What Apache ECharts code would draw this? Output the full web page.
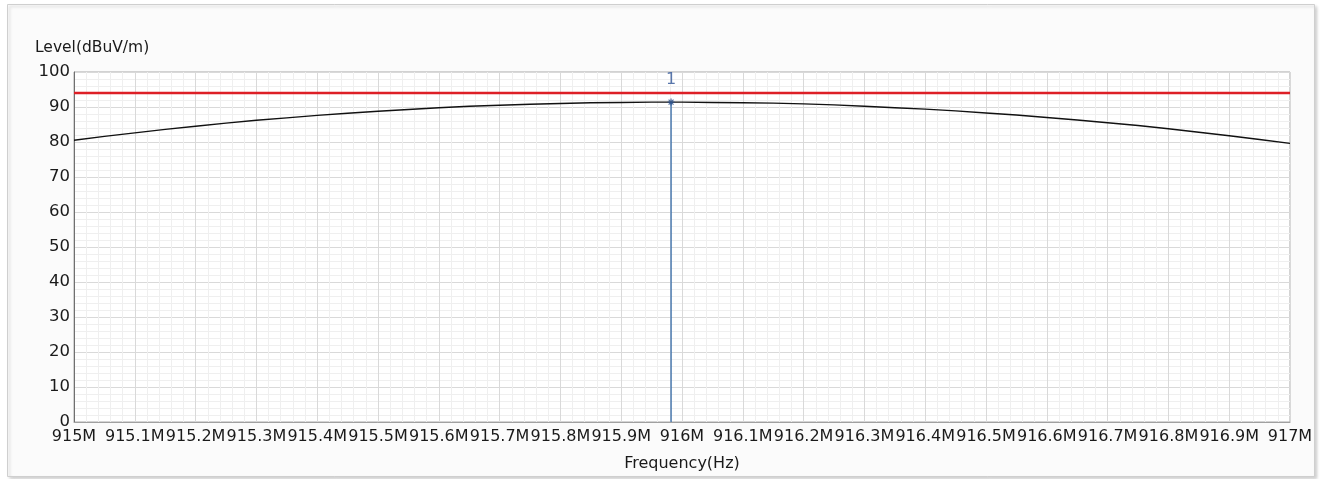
<!DOCTYPE html>
<html>
<head>
<meta charset="utf-8">
<script src="https://cdn.jsdelivr.net/npm/echarts@6/dist/echarts.min.js"></script>
<style>
html,body{margin:0;padding:0;background:#ffffff;}
#chart{width:1324px;height:479px;}
</style>
</head>
<body>
<div id="chart"></div>
<script>
// Frequency (MHz) samples of the measured trace
const freqs = [915.00,915.05,915.10,915.15,915.20,915.25,915.30,915.35,915.40,915.45,
  915.50,915.55,915.60,915.65,915.70,915.75,915.80,915.85,915.90,915.95,
  916.00,916.05,916.10,916.15,916.20,916.25,916.30,916.35,916.40,916.45,
  916.50,916.55,916.60,916.65,916.70,916.75,916.80,916.85,916.90,916.95,917.00];
// Level (dBuV/m) of the measured trace
const levels = [80.5,81.6,82.6,83.6,84.5,85.4,86.2,86.9,87.6,88.2,
  88.8,89.3,89.8,90.2,90.5,90.8,91.0,91.2,91.3,91.4,
  91.4,91.3,91.2,91.1,90.9,90.6,90.2,89.8,89.4,88.9,
  88.3,87.7,87.0,86.3,85.5,84.7,83.8,82.8,81.8,80.7,79.6];
// Limit line
const limitLevel = 94;
const limitFreqs = [915, 917];
// Marker 1
const markerName = '1';
const markerFreq = 915.982;
const markerLevel = 91.4;
// Axes
const xMin = 915, xMax = 917, xStep = 0.1;
const yMin = 0, yMax = 100, yStep = 10;
const yTitle = 'Level(dBuV/m)';
const xTitle = 'Frequency(Hz)';

const traceData = freqs.map((f, i) => [f, levels[i]]);
const limitData = limitFreqs.map(f => [f, limitLevel]);
const markerLine = [[markerFreq, yMin], [markerFreq, markerLevel]];

const FONT = 'DejaVu Sans';
const chart = echarts.init(document.getElementById('chart'), null, {renderer: 'canvas'});
chart.setOption({
  animation: false,
  backgroundColor: '#ffffff',
  graphic: [{
    type: 'rect', z: -10, silent: true,
    shape: {x: 7.5, y: 4.5, width: 1307, height: 472},
    style: {fill: '#fbfbfb', stroke: '#cfcfcf', lineWidth: 1,
      shadowColor: 'rgba(0,0,0,0.18)', shadowBlur: 3, shadowOffsetX: 2, shadowOffsetY: 2}
  }],
  title: {
    text: yTitle, left: 30, top: 35,
    textStyle: {fontFamily: FONT, fontSize: 15.5, fontWeight: 'normal', color: '#1a1a1a'}
  },
  grid: {
    left: 74, right: 34, top: 72, bottom: 57,
    show: true, backgroundColor: '#ffffff', borderColor: '#a8a8a8', borderWidth: 1
  },
  xAxis: {
    type: 'value', min: xMin, max: xMax, interval: xStep,
    name: xTitle, nameLocation: 'middle', nameGap: 34,
    nameTextStyle: {fontFamily: FONT, fontSize: 16, color: '#1a1a1a'},
    axisLine: {show: true, onZero: false, lineStyle: {color: '#a0a0a0', width: 1}},
    axisTick: {show: false},
    minorTick: {show: false, splitNumber: 5},
    axisLabel: {
      fontFamily: FONT, fontSize: 16, color: '#1a1a1a', margin: 7,
      hideOverlap: false, showMinLabel: true, showMaxLabel: true,
      formatter: v => (+v.toFixed(1)) + 'M'
    },
    splitLine: {show: true, lineStyle: {color: '#d9d9d9', width: 1}},
    minorSplitLine: {show: true, lineStyle: {color: '#efefef', width: 1}}
  },
  yAxis: {
    type: 'value', min: yMin, max: yMax, interval: yStep,
    axisLine: {show: true, lineStyle: {color: '#707070', width: 1}},
    axisTick: {show: false},
    minorTick: {show: false, splitNumber: 5},
    axisLabel: {fontFamily: FONT, fontSize: 16.5, color: '#1a1a1a', margin: 4, hideOverlap: false},
    splitLine: {show: true, lineStyle: {color: '#d9d9d9', width: 1}},
    minorSplitLine: {show: true, lineStyle: {color: '#efefef', width: 1}}
  },
  series: [
    {
      type: 'line', data: limitData, symbol: 'none', silent: true,
      lineStyle: {color: '#dd1f26', width: 2.5}, z: 3
    },
    {
      type: 'line', data: traceData, symbol: 'none', silent: true,
      lineStyle: {color: '#111111', width: 1.4}, z: 4
    },
    {
      type: 'line', data: markerLine, symbol: 'none', silent: true,
      lineStyle: {color: '#3d6fa8', width: 1.4}, z: 5
    },
    {
      type: 'scatter', silent: true, z: 6,
      data: [[markerFreq, markerLevel]],
      symbol: 'path://M0,-5L0,5M-5,0L5,0M-3.5,-3.5L3.5,3.5M-3.5,3.5L3.5,-3.5',
      symbolSize: 7,
      itemStyle: {color: 'none', borderColor: '#2a4f8a', borderWidth: 1.2},
      label: {
        show: true, position: 'top', distance: 8,
        formatter: markerName,
        fontFamily: FONT, fontSize: 16, color: '#2f5597'
      }
    }
  ]
});
</script>
</body>
</html>
